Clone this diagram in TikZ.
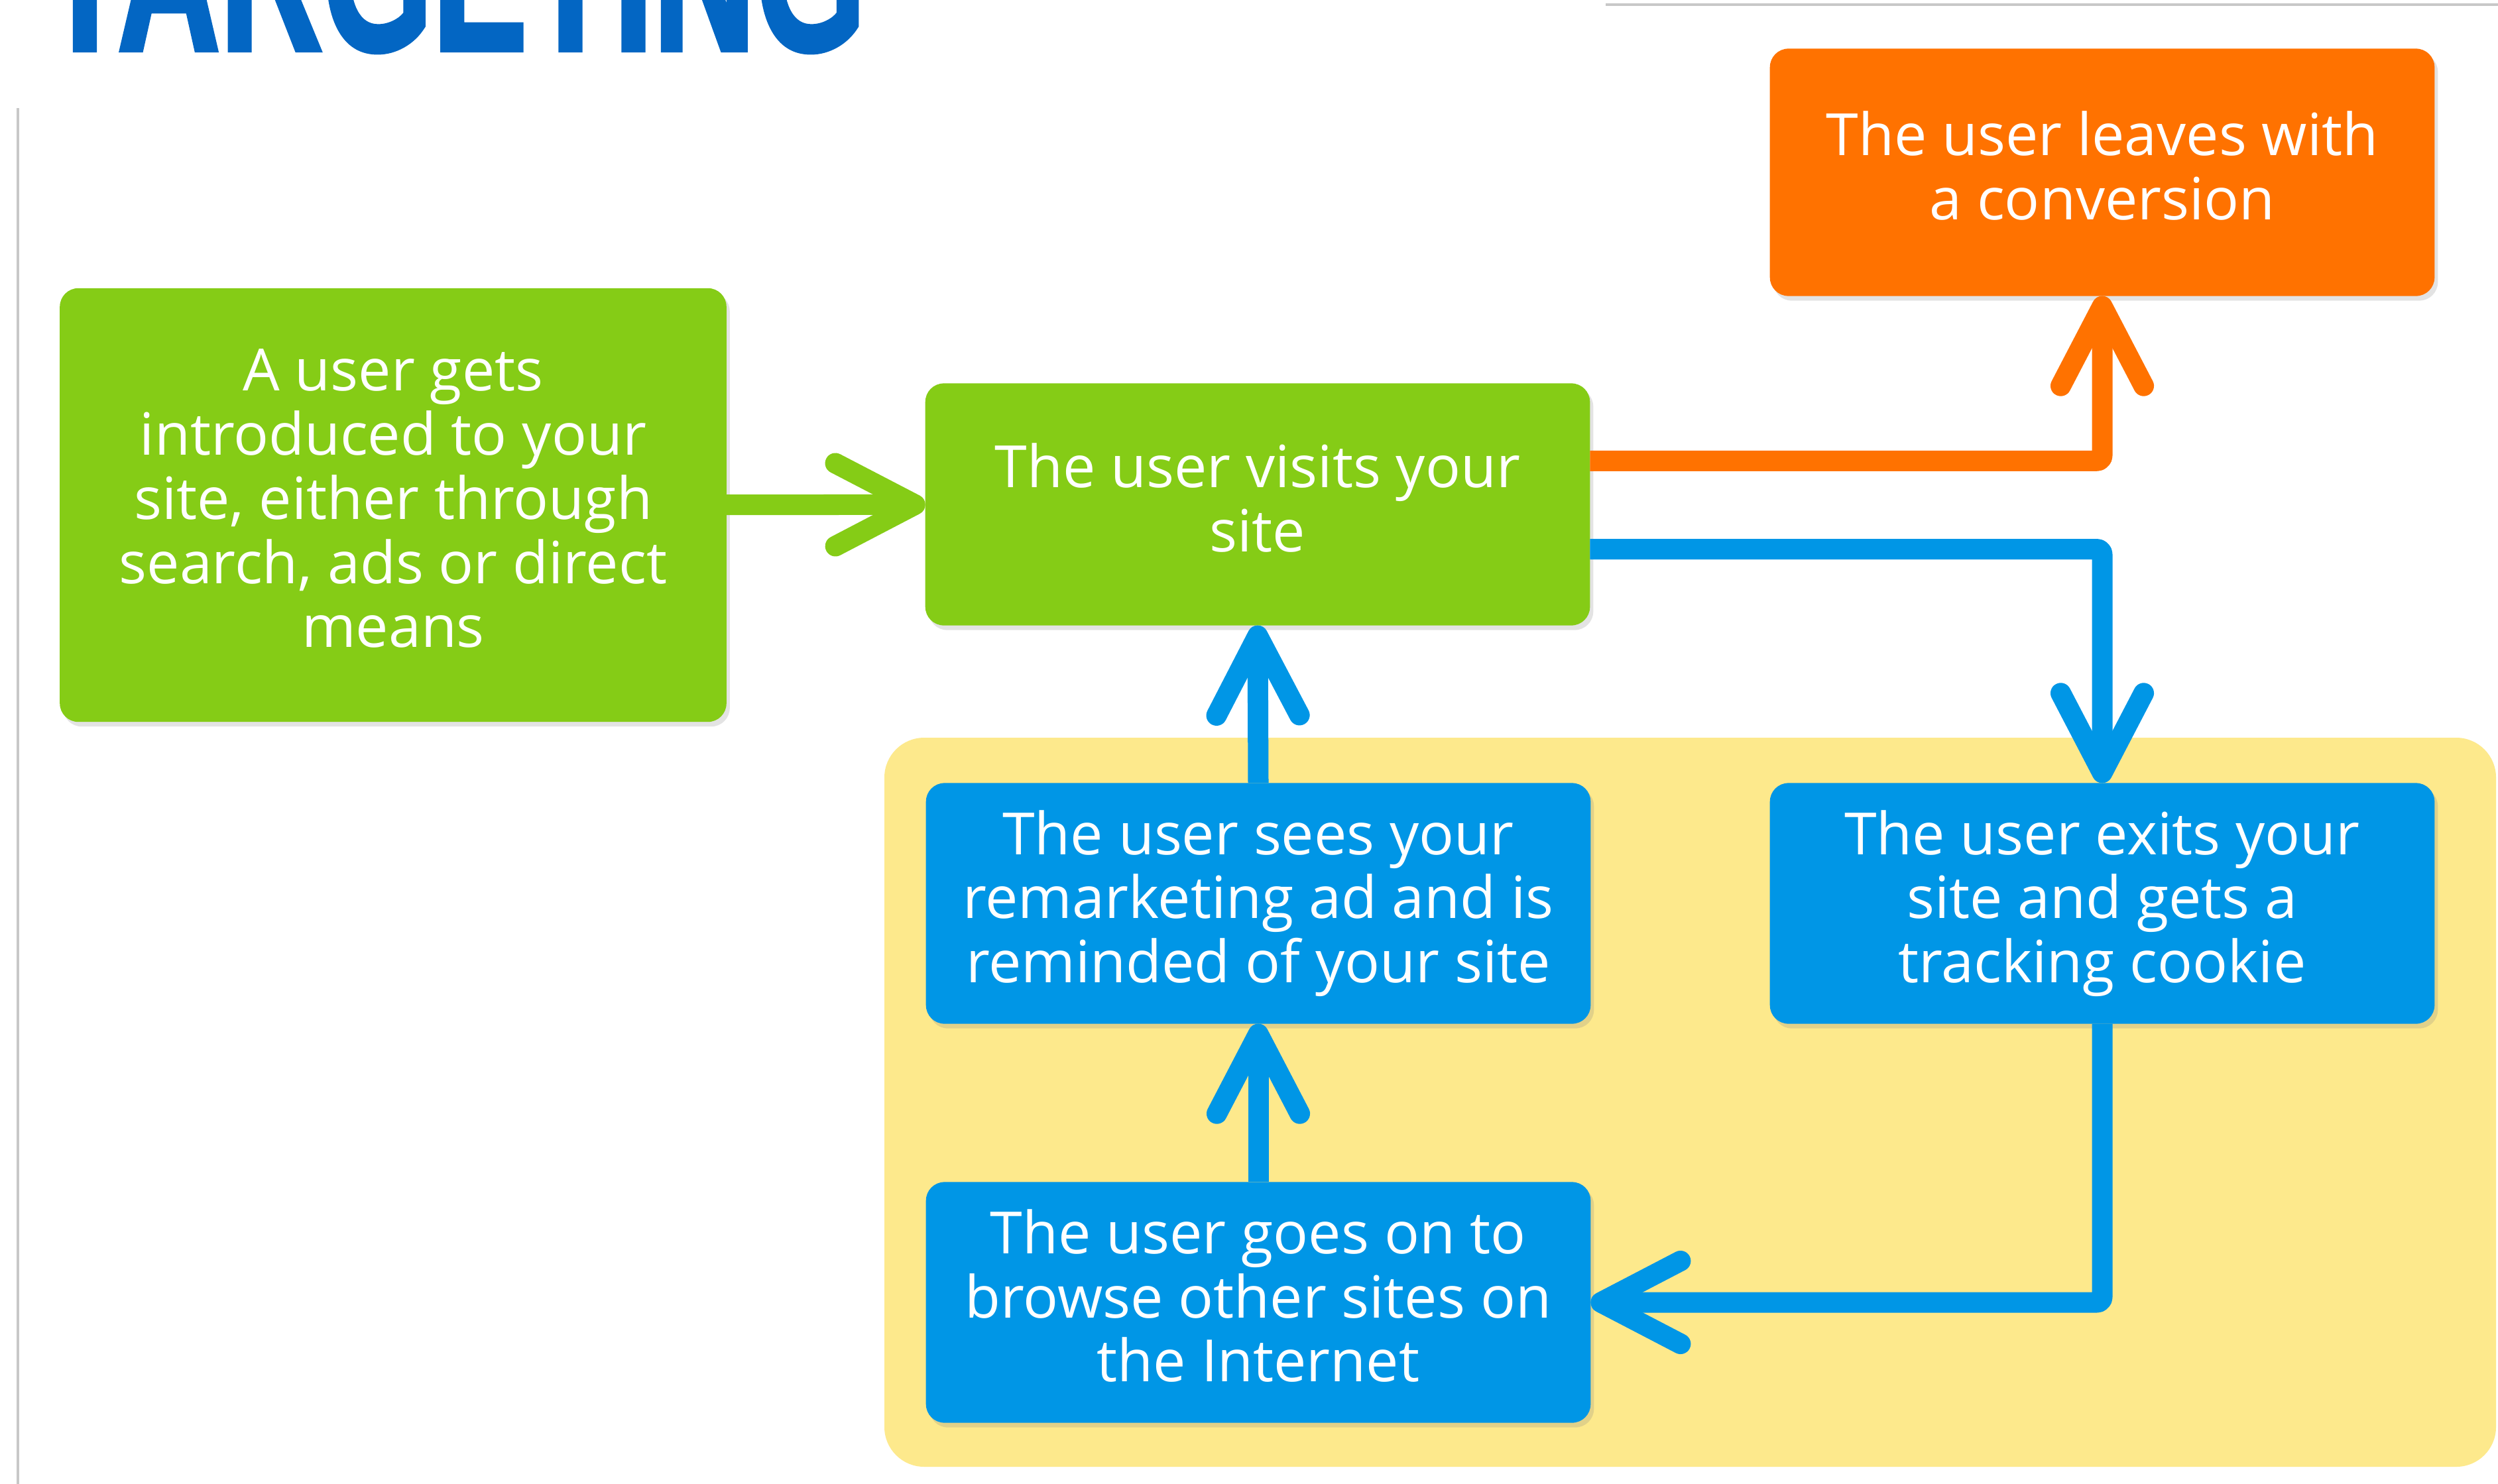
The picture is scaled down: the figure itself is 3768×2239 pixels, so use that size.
\documentclass[tikz,border=0pt]{standalone}
\usepackage{fontspec}
\setmainfont{Open Sans}
\newfontfamily\titlefont{Liberation Sans}[BoldFeatures={FakeBold=2.5}]
\usetikzlibrary{arrows.meta,shadows,calc}

\definecolor{boxgreen}{HTML}{85CC16}
\definecolor{boxorange}{HTML}{FF7200}
\definecolor{boxblue}{HTML}{0096E6}
\definecolor{loopyellow}{HTML}{FDE98C}
\definecolor{titleblue}{HTML}{0366C3}
\definecolor{framegray}{HTML}{C8C8C8}

\begin{document}
\begin{tikzpicture}[x=0.01cm, y=-0.01cm,
  stepbox/.style={rounded corners=0.28cm, inner sep=0pt, outer sep=0pt,
    text=white, align=center, font=\fontsize{25}{27.5}\selectfont,
    execute at end node={\rule[-5.8pt]{0pt}{0pt}},
    minimum width=10.02cm, minimum height=3.65cm,
    drop shadow={shadow xshift=0.05cm, shadow yshift=-0.07cm, opacity=0.22}},
  flow/.style={line width=0.31cm, rounded corners=0.08cm, line join=round,
    -{Straight Barb[length=1.2cm, width=1.25cm, round]}},
]
\useasboundingbox (0,0) rectangle (3768,2239);
\fill[white] (0,0) rectangle (3768,2239);

% page frame lines
\draw[framegray, line width=0.03cm] (27,163) -- (27,2239);
\draw[framegray, line width=0.03cm] (2422,7) -- (3768,7);

% heading, running off the top edge
\node[anchor=base west, inner sep=0pt, text=titleblue,
  font=\titlefont\bfseries\fontsize{95}{95}\selectfont] (title) at (62,75)
  {\scalebox{0.64}[1]{TARGETING}};

% remarketing loop background
\fill[loopyellow, rounded corners=0.6cm] (1334,1113) rectangle (3765,2213);

% steps
\node[stepbox, fill=boxgreen, minimum width=10.05cm, minimum height=6.54cm] (intro) at (593,762)
  {A user gets\\introduced to your\\site, either through\\search, ads or direct\\means};
\node[stepbox, fill=boxgreen] (visit) at (1897,761) {The user visits your\\site};
\node[stepbox, fill=boxorange, minimum height=3.73cm] (conv) at (3171,260) {The user leaves with\\a conversion};
\node[stepbox, fill=boxblue, minimum height=3.63cm] (remind) at (1898,1363) {The user sees your\\remarketing ad and is\\reminded of your site};
\node[stepbox, fill=boxblue, minimum height=3.63cm] (exits) at (3171,1363) {The user exits your\\site and gets a\\tracking cookie};
\node[stepbox, fill=boxblue, minimum height=3.63cm] (browse) at (1898,1965) {The user goes on to\\browse other sites on\\the Internet};

% connectors
\draw[flow, boxgreen] (intro) -- (visit);
\draw[flow, boxorange] ($(visit.north east)!0.32!(visit.south east)$) -| (conv.south);
\draw[flow, boxblue] ($(visit.north east)!0.685!(visit.south east)$) -| (exits.north);
\draw[flow, boxblue] (exits.south) |- (browse.east);
\draw[flow, boxblue] (browse.north) -- (remind.south);
\draw[flow, boxblue] (remind.north) -- (visit.south);
\end{tikzpicture}
\end{document}
